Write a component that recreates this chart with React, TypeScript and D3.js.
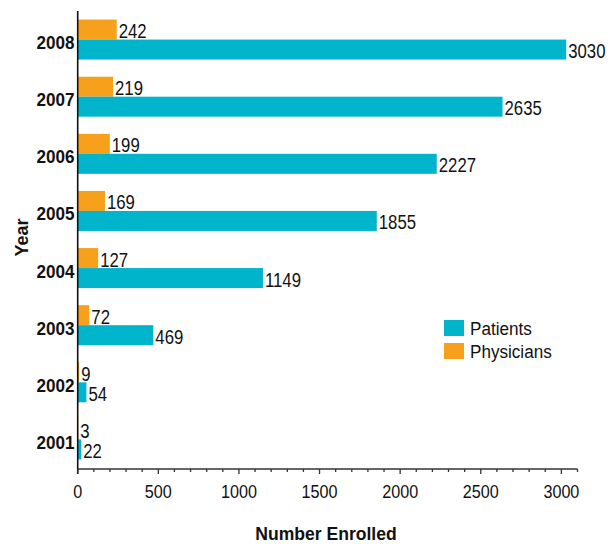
import React from "react";
import * as d3 from "d3";

const years = ["2008", "2007", "2006", "2005", "2004", "2003", "2002", "2001"];
const patients = [3030, 2635, 2227, 1855, 1149, 469, 54, 22];
const physicians = [242, 219, 199, 169, 127, 72, 9, 3];
const xTicksMajor = [0, 500, 1000, 1500, 2000, 2500, 3000];
const seriesNames = ["Physicians", "Patients"];
const legendItems = ["Patients", "Physicians"];

const W = 615;
const H = 544;
const TEAL = "#00B4CB";
const ORANGE = "#F6A01B";
const FONT = "'Liberation Sans', Arial, sans-serif";

type TProps = {
  x: number;
  y: number;
  sx: number;
  size: number;
  anchor?: "start" | "middle" | "end";
  bold?: boolean;
  rotate?: number;
  children: React.ReactNode;
};

function T({ x, y, sx, size, anchor = "start", bold = false, rotate = 0, children }: TProps) {
  return (
    <text
      transform={`translate(${x},${y}) rotate(${rotate}) scale(${sx},1)`}
      textAnchor={anchor}
      fontSize={size}
      fontWeight={bold ? "bold" : "normal"}
      fill="#111"
    >
      {children}
    </text>
  );
}

export default function App() {
  const x = d3.scaleLinear().domain([0, 3100]).range([77.7, 577.5]);
  const y = d3.scaleBand<string>().domain(years).range([11, 468]).paddingInner(0.3).paddingOuter(0.15);
  const sub = d3.scaleBand<string>().domain(seriesNames).range([0, y.bandwidth()]);
  const minorTicks = d3.range(0, 3101, 100);
  const colorOf = (s: string) => (s === "Patients" ? TEAL : ORANGE);
  const valuesOf = (s: string) => (s === "Patients" ? patients : physicians);
  const axisY = 469;

  return (
    <svg width={W} height={H} style={{ position: "absolute", left: 0, top: 0 }} fontFamily={FONT}>
      <rect width={W} height={H} fill="#fff" />
      {seriesNames.map((s) =>
        years.map((yr, i) => {
          const v = valuesOf(s)[i];
          const y0 = (y(yr) as number) + (sub(s) as number);
          return (
            <g key={s + yr}>
              <rect x={x(0)} y={y0} width={x(v) - x(0)} height={sub.bandwidth()} fill={colorOf(s)} />
              <T x={x(v) + 2} y={y0 + sub.bandwidth() - 1.5} sx={0.86} size={19.5}>
                {v}
              </T>
            </g>
          );
        })
      )}
      {years.map((yr) => (
        <T key={yr} x={74.5} y={(y(yr) as number) + y.bandwidth() / 2 + 9.5} sx={0.9} size={19} anchor="end" bold>
          {yr}
        </T>
      ))}
      <line x1={x(0)} x2={x(0)} y1={11} y2={axisY + 5} stroke="#111" strokeWidth={1.6} />
      <line x1={x(0)} x2={x(3100)} y1={axisY} y2={axisY} stroke="#333" strokeWidth={1.6} />
      {minorTicks.map((t) => (
        <line
          key={t}
          x1={x(t)}
          x2={x(t)}
          y1={axisY}
          y2={axisY + (t % 500 === 0 ? 5 : 3)}
          stroke="#333"
          strokeWidth={1.3}
        />
      ))}
      {xTicksMajor.map((t) => (
        <T key={t} x={x(t)} y={498} sx={0.87} size={18.6} anchor="middle">
          {t}
        </T>
      ))}
      <T x={326} y={540} sx={0.95} size={18.5} anchor="middle" bold>
        Number Enrolled
      </T>
      <T x={28} y={237.5} sx={0.97} size={18.5} anchor="middle" bold rotate={-90}>
        Year
      </T>
      {legendItems.map((s, i) => (
        <g key={s} transform={`translate(444,${320 + i * 23})`}>
          <rect width={20} height={16} fill={colorOf(s)} />
          <T x={26} y={15} sx={0.9} size={19}>
            {s}
          </T>
        </g>
      ))}
    </svg>
  );
}
